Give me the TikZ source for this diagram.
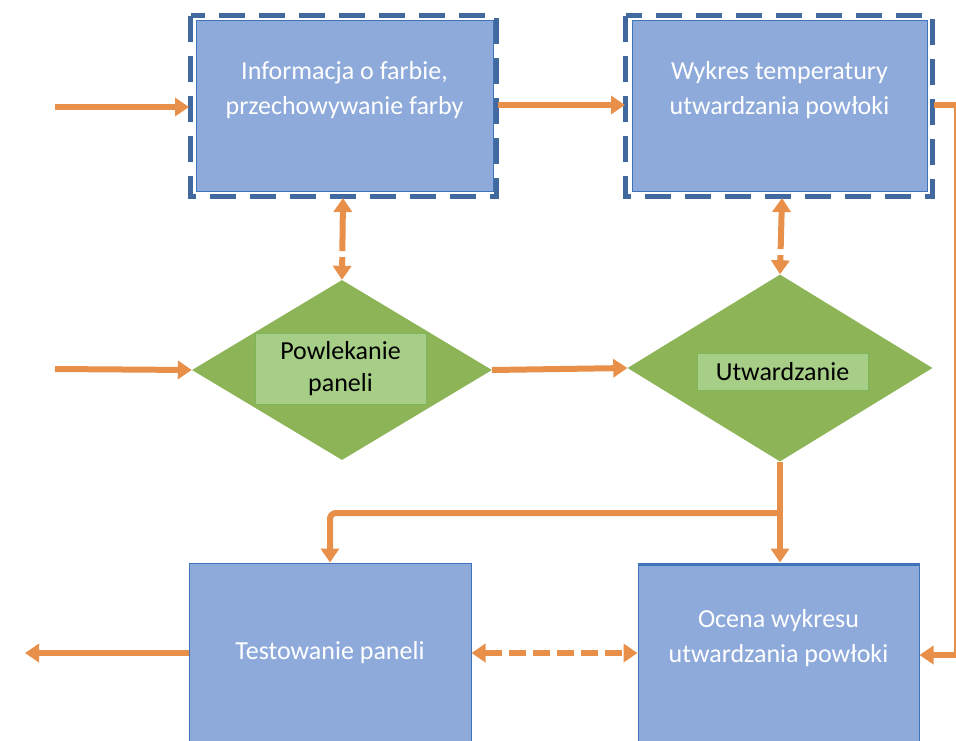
\documentclass[tikz,border=0pt]{standalone}
\usepackage{fontspec}
\setmainfont{Carlito}
\usetikzlibrary{shapes.geometric,arrows.meta}
\definecolor{boxfill}{HTML}{8EAADB}
\definecolor{boxline}{HTML}{3F74B8}
\definecolor{frameblue}{HTML}{41699F}
\definecolor{dgreen}{HTML}{8DB457}
\definecolor{lgreen}{HTML}{A6CE86}
\definecolor{lgreenline}{HTML}{7DB55A}
\definecolor{orng}{HTML}{E8904A}
\tikzset{
  bluebox/.style={draw=boxline, line width=1pt, fill=boxfill, inner sep=0pt},
  boxtext/.style={text=white, align=center, font=\fontsize{26}{35}\selectfont, inner sep=0pt},
  dashframe/.style={draw=frameblue, line width=5pt, dash pattern=on 26pt off 14pt},
  decision/.style={shape=diamond, fill=dgreen, draw=none, inner sep=0pt, minimum width=#1},
  greenlabel/.style={fill=lgreen, draw=lgreenline, line width=0.8pt, align=center, text=black,
    font=\fontsize{26}{32}\selectfont, inner sep=0pt},
  flow/.style={draw=orng, line width=6pt, -{Triangle[width=18pt,length=14pt]}},
  flowline/.style={draw=orng, line width=6pt},
  flowboth/.style={draw=orng, line width=6pt, {Triangle[width=18pt,length=14pt]}-{Triangle[width=18pt,length=14pt]}},
}
\begin{document}
\begin{tikzpicture}[x=1pt,y=-1pt]
\useasboundingbox (0,0) rectangle (956,740);
\clip (0,0) rectangle (956,740);

% top boxes
\node[bluebox, minimum width=297pt, minimum height=171pt] (info) at (344.5,105.5) {};
\draw[dashframe] ([shift={(-5,-4)}]info.north west) rectangle ([shift={(3,5)}]info.south east);
\node[bluebox, minimum width=295pt, minimum height=171pt] (wyk) at (779.5,105.5) {};
\draw[dashframe] ([shift={(-6,-4)}]wyk.north west) rectangle ([shift={(5,5)}]wyk.south east);
\node[boxtext] (infot) at (344.5,90) {Informacja o farbie,\\przechowywanie farby};
\node[boxtext] (wykt) at (779.5,90) {Wykres temperatury\\utwardzania powłoki};

% decisions
\node[decision=300pt, minimum height=180pt] (pow) at (342,370) {};
\node[decision=305pt, minimum height=187pt] (utw) at (780,368) {};
\node[greenlabel, minimum width=171pt, minimum height=71pt] (powt) at (340.5,368.5) {Powlekanie\\paneli};
\node[greenlabel, minimum width=171pt, minimum height=37pt] (utwt) at (782.5,371.5) {Utwardzanie};

% bottom boxes
\node[bluebox, minimum width=282pt, minimum height=180pt] (test) at (330,653) {};
\node[boxtext] (testt) at (330,653) {Testowanie paneli};
\node[bluebox, minimum width=281pt, minimum height=180pt] (ocena) at (778.5,653) {};
\draw[draw=boxline, line width=3pt] ([yshift=-1.5]ocena.north west) -- ([yshift=-1.5]ocena.north east);
\node[boxtext] (ocenat) at (778.5,638) {Ocena wykresu\\utwardzania powłoki};

% helper coordinates
\coordinate (inA) at (55,107);
\coordinate (inB) at (55,369);
\coordinate (outT) at (25,653);
\coordinate (r1) at (957,105);
\coordinate (r2) at (957,655);
\coordinate (split) at (781,513);
\coordinate (lcorner) at (330,513);

% connectors
\draw[flow] (inA) -- (189,107);
\draw[flow] (498,105) -- (625,105);
\draw[flowline] (934,105) -- (r1);
\draw[flowline] (r1) -- (r2);
\draw[flow] (r2) -- (ocena.east |- r2);
\draw[flow] (inB) -- (pow.west);
\draw[flow] (pow.east) -- (utw.west);
\draw[flowboth, dash pattern=on 40pt off 6pt] (343,198) -- (pow.north);
\draw[flowboth, dash pattern=on 38pt off 6pt] (782,198) -- (utw.north);
\draw[flow] (utw.south) -- (ocena.north -| utw.south);
\draw[flow, rounded corners=6pt] (split) -- (lcorner) -- (test.north -| lcorner);
\draw[flow] (test.west) -- (outT);
\draw[flowboth, dash pattern=on 17pt off 7pt] (test.east) -- (ocena.west);
\end{tikzpicture}
\end{document}
